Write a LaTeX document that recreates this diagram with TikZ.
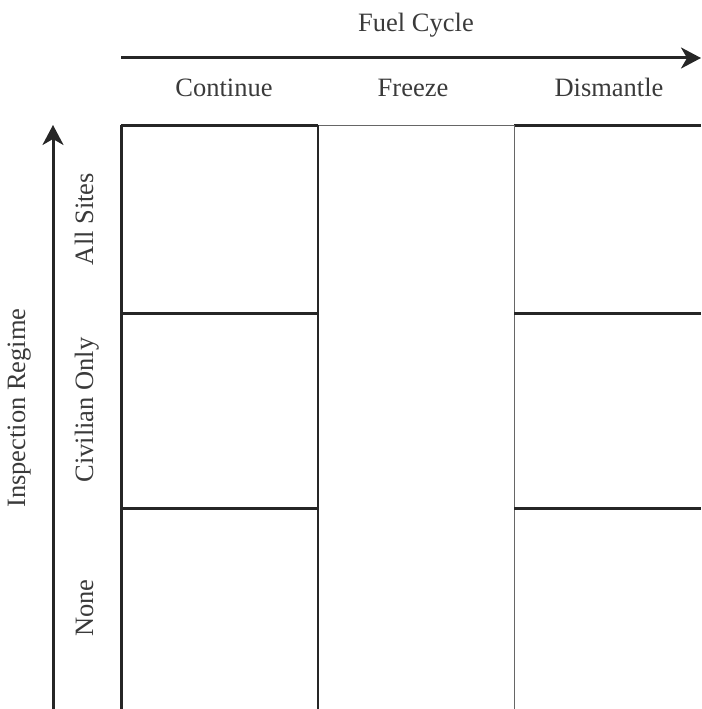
\documentclass[tikz,border=0pt]{standalone}
\usepackage{fontspec}
\setmainfont{Liberation Serif}
\usetikzlibrary{arrows.meta}
\definecolor{ink}{HTML}{262626}
\definecolor{txt}{HTML}{3A3A3A}
\tikzset{
  lbl/.style={text=txt,font=\fontsize{26.5}{28}\selectfont,inner sep=0pt,anchor=base},
  axis/.style={draw=ink,line width=3pt,-{Stealth[length=20pt,width=21pt,inset=6pt]}},
  thick line/.style={draw=ink,line width=3pt},
  mid line/.style={draw=ink,line width=1.8pt},
  thin line/.style={draw=black!60,line width=1pt},
}
\begin{document}
\begin{tikzpicture}[x=1pt,y=-1pt]
\useasboundingbox (0,0) rectangle (701,709);
% axes
\coordinate (hx0) at (121,58);
\coordinate (hx1) at (701,58);
\coordinate (vy0) at (53,709);
\coordinate (vy1) at (53,125);
\draw[axis] (hx0) -- (hx1);
\draw[axis] (vy0) -- (vy1);
% labels
\node[lbl] (fc) at (416,31.5) {Fuel Cycle};
\node[lbl] (c1) at (224,96.5) {Continue};
\node[lbl] (c2) at (413,96.5) {Freeze};
\node[lbl] (c3) at (609,96.5) {Dismantle};
\node[lbl,rotate=90] (ir) at (25,408) {Inspection Regime};
\node[lbl,rotate=90] (r1) at (93,219) {All Sites};
\node[lbl,rotate=90] (r2) at (93,410) {Civilian Only};
\node[lbl,rotate=90] (r3) at (93,608) {None};
% grid corners
\coordinate (a0) at (121,125); \coordinate (a1) at (121,709);
\coordinate (b0) at (318,125); \coordinate (b1) at (318,709);
\coordinate (d0) at (514,125); \coordinate (d1) at (514,709);
\coordinate (e0) at (701,125);
\coordinate (h1a) at (121,313); \coordinate (h1b) at (318,313);
\coordinate (h1c) at (514,313); \coordinate (h1d) at (701,313);
\coordinate (h2a) at (121,508); \coordinate (h2b) at (318,508);
\coordinate (h2c) at (514,508); \coordinate (h2d) at (701,508);
% grid
\draw[thin line] (b0) -- (d0);
\draw[thick line] (a0) -- (b0);
\draw[thick line] (d0) -- (e0);
\draw[thick line] (a0) -- (a1);
\draw[mid line] (b0) -- (b1);
\draw[thin line] (d0) -- (d1);
\draw[thick line] (h1a) -- (h1b);
\draw[thick line] (h1c) -- (h1d);
\draw[thick line] (h2a) -- (h2b);
\draw[thick line] (h2c) -- (h2d);
\end{tikzpicture}
\end{document}
